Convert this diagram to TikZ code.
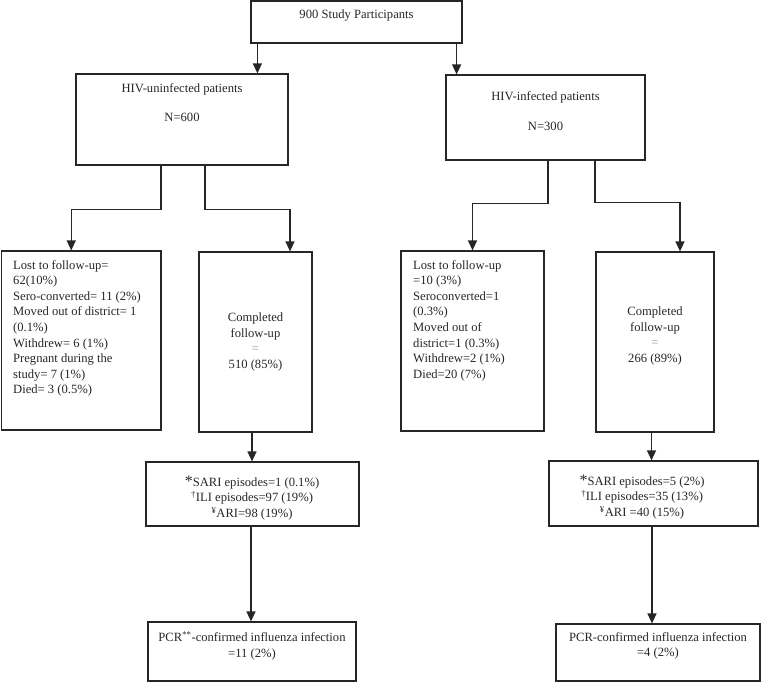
\documentclass[tikz,border=0pt]{standalone}
\usepackage{fontspec}
\setmainfont{Liberation Serif}
\usetikzlibrary{arrows.meta,calc}
\begin{document}
\begin{tikzpicture}[x=1pt,y=-1pt,
  box/.style={draw=black!85, line width=1.2pt, rectangle, inner sep=0pt},
  arr/.style={draw=black!85, line width=1.3pt, -{Triangle[width=9pt,length=10pt]}},
  lbl/.style={font=\fontsize{12.6}{15.6}\selectfont, inner sep=0pt, text=black!85},
]
\useasboundingbox (0,0) rectangle (761,683);

% boxes
\node[box, minimum width=211pt, minimum height=42pt] (top) at (356.5,22) {};
\node[box, minimum width=212pt, minimum height=91pt] (unInf) at (182,119.5) {};
\node[box, minimum width=199pt, minimum height=85pt] (inf) at (545.5,117.5) {};
\node[box, minimum width=159.5pt, minimum height=179pt] (lostL) at (81.25,340.5) {};
\node[box, minimum width=113pt, minimum height=180pt] (complL) at (255.5,342) {};
\node[box, minimum width=143pt, minimum height=180pt] (lostR) at (472.5,341) {};
\node[box, minimum width=118pt, minimum height=180pt] (complR) at (655,342) {};
\node[box, minimum width=213pt, minimum height=64pt] (sariL) at (252.5,494) {};
\node[box, minimum width=209pt, minimum height=65pt] (sariR) at (653.5,493.5) {};
\node[box, minimum width=208pt, minimum height=59pt] (pcrL) at (252,651.5) {};
\node[box, minimum width=204pt, minimum height=57pt] (pcrR) at (658,652.5) {};

% texts
\node[lbl] (tTop) at (356.5,15) {900 Study Participants};
\node[lbl] (tUn1) at (182,89) {HIV-uninfected patients};
\node[lbl] (tUn2) at (182,117) {N=600};
\node[lbl] (tIn1) at (545.5,97) {HIV-infected patients};
\node[lbl] (tIn2) at (545.5,126) {N=300};

\node[lbl, align=left, anchor=north west] (tLostL) at (13,260)
  {Lost to follow-up=\\62(10\%)\\Sero-converted= 11 (2\%)\\Moved out of district= 1\\(0.1\%)\\Withdrew= 6 (1\%)\\Pregnant during the\\study= 7 (1\%)\\Died= 3 (0.5\%)};
\node[lbl, align=center] (tComplL) at (255.5,342)
  {Completed\\follow-up\\{\color{black!40}=}\\510 (85\%)};
\node[lbl, align=left, anchor=north west] (tLostR) at (413,260)
  {Lost to follow-up\\=10 (3\%)\\Seroconverted=1\\(0.3\%)\\Moved out of\\district=1 (0.3\%)\\Withdrew=2 (1\%)\\Died=20 (7\%)};
\node[lbl, align=center] (tComplR) at (655,336)
  {Completed\\follow-up\\{\color{black!40}=}\\266 (89\%)};

\node[lbl, align=center] (tSariL) at (252,498)
  {{\fontsize{16}{15}\selectfont *}SARI episodes=1 (0.1\%)\\\textsuperscript{†}ILI episodes=97 (19\%)\\\textsuperscript{¥}ARI=98 (19\%)};
\node[lbl, align=center] (tSariR) at (642,497)
  {{\fontsize{16}{15}\selectfont *}SARI episodes=5 (2\%)\\\textsuperscript{†}ILI episodes=35 (13\%)\\\textsuperscript{¥}ARI =40 (15\%)};
\node[lbl, align=center] (tPcrL) at (252,645.5)
  {PCR\textsuperscript{**}-confirmed influenza infection\\=11 (2\%)};
\node[lbl, align=center] (tPcrR) at (658,646)
  {PCR-confirmed influenza infection\\=4 (2\%)};

% connectors
\draw[arr] ([xshift=7pt]top.south west) -- ([xshift=7pt]top.south west |- unInf.north);
\draw[arr] ([xshift=-6pt]top.south east) -- ([xshift=-6pt]top.south east |- inf.north);

\draw[arr] ([xshift=-21pt]unInf.south) -- ++(0,44) -| ([xshift=-10pt]lostL.north);
\draw[arr] ([xshift=23pt]unInf.south) -- ++(0,44) -| ([xshift=34.5pt]complL.north);
\draw[arr] ([xshift=2.5pt]inf.south) -- ++(0,43) -| (lostR.north);
\draw[arr] ([xshift=49.5pt]inf.south) -- ++(0,42) -| ([xshift=25pt]complR.north);

\draw[arr] ([xshift=-3.5pt]complL.south) -- ([xshift=-3.5pt]complL.south |- sariL.north);
\draw[arr] ([xshift=-3.5pt]complR.south) -- ([xshift=-3.5pt]complR.south |- sariR.north);
\draw[arr] ([xshift=-1.5pt]sariL.south) -- ([xshift=-1.5pt]sariL.south |- pcrL.north);
\draw[arr] ([xshift=-1.5pt]sariR.south) -- ([xshift=-1.5pt]sariR.south |- pcrR.north);
\end{tikzpicture}
\end{document}
